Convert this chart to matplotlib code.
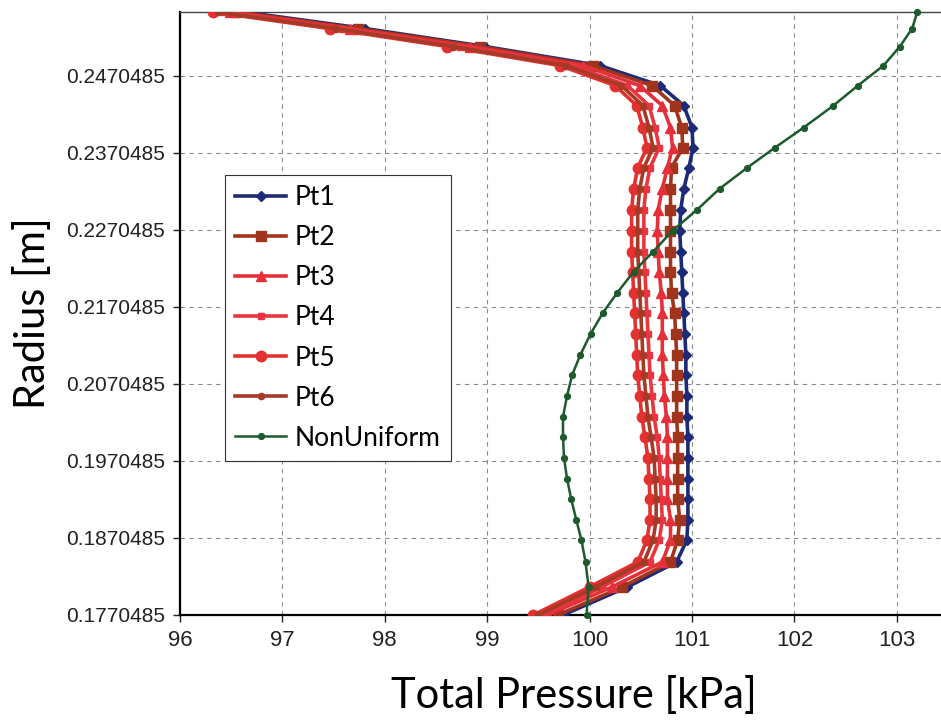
#!/usr/bin/env python3
# -*- coding: utf-8 -*-
"""
Radial total pressure profiles (Pt1..Pt6 probes vs. non-uniform inflow).

Output:
  out.png
"""

from __future__ import annotations

from pathlib import Path

import matplotlib

matplotlib.use("Agg")
import matplotlib.pyplot as plt

OUTPUT = Path("out.png")

# radius of each measurement station [m], hub -> tip
RADIUS = [0.1770485, 0.18069, 0.18393, 0.18679, 0.18939, 0.19211, 0.19471, 0.19744,
          0.20017, 0.20276, 0.20549, 0.20822, 0.21082, 0.21354, 0.21627, 0.21887,
          0.22160, 0.22419, 0.22692, 0.22965, 0.23237, 0.23510, 0.23770, 0.24030,
          0.24315, 0.24575, 0.24835, 0.25082, 0.25315, 0.25530]

# total pressure [kPa]
PT1 = [99.74, 100.37, 100.85, 100.95, 100.96, 100.96, 100.96, 100.96, 100.96, 100.95,
       100.95, 100.94, 100.94, 100.93, 100.92, 100.91, 100.90, 100.89, 100.88, 100.89,
       100.92, 100.97, 101.01, 101.00, 100.92, 100.69, 100.10, 98.98, 97.81, 96.62]
PT2 = [99.69, 100.32, 100.79, 100.86, 100.88, 100.86, 100.86, 100.86, 100.86, 100.85,
       100.85, 100.85, 100.85, 100.84, 100.83, 100.80, 100.79, 100.79, 100.79, 100.79,
       100.79, 100.80, 100.91, 100.90, 100.83, 100.61, 100.03, 98.93, 97.74, 96.56]
PT3 = [99.59, 100.22, 100.71, 100.79, 100.79, 100.76, 100.76, 100.76, 100.76, 100.75,
       100.73, 100.72, 100.71, 100.71, 100.71, 100.70, 100.68, 100.67, 100.66, 100.67,
       100.71, 100.76, 100.81, 100.79, 100.71, 100.49, 99.94, 98.83, 97.66, 96.49]
PT4 = [99.55, 100.12, 100.59, 100.68, 100.71, 100.70, 100.69, 100.68, 100.66, 100.63,
       100.61, 100.59, 100.58, 100.57, 100.56, 100.55, 100.54, 100.53, 100.53, 100.53,
       100.55, 100.59, 100.68, 100.64, 100.58, 100.37, 99.83, 98.73, 97.58, 96.42]
PT5 = [99.45, 100.00, 100.47, 100.56, 100.59, 100.59, 100.58, 100.57, 100.54, 100.51,
       100.49, 100.47, 100.46, 100.45, 100.44, 100.43, 100.42, 100.41, 100.41, 100.41,
       100.43, 100.47, 100.56, 100.52, 100.46, 100.25, 99.71, 98.61, 97.46, 96.32]
PT6 = [99.50, 100.06, 100.53, 100.62, 100.65, 100.65, 100.64, 100.63, 100.60, 100.57,
       100.55, 100.53, 100.52, 100.51, 100.50, 100.49, 100.48, 100.47, 100.47, 100.47,
       100.49, 100.53, 100.62, 100.58, 100.52, 100.31, 99.77, 98.67, 97.52, 96.37]
NON_UNIFORM = [99.97, 99.99, 99.96, 99.92, 99.87, 99.82, 99.78, 99.75, 99.74, 99.74,
               99.78, 99.83, 99.91, 100.01, 100.13, 100.27, 100.43, 100.62, 100.81, 101.05,
               101.27, 101.54, 101.81, 102.09, 102.38, 102.62, 102.87, 103.03, 103.15, 103.20]

X_TICKS = [96, 97, 98, 99, 100, 101, 102, 103]
Y_TICKS = [0.1770485, 0.1870485, 0.1970485, 0.2070485, 0.2170485,
           0.2270485, 0.2370485, 0.2470485]
Y_TICK_LABELS = ["0.1770485", "0.1870485", "0.1970485", "0.2070485", "0.2170485",
                 "0.2270485", "0.2370485", "0.2470485"]

LABEL_FONT = ["Lato", "DejaVu Sans"]
TICK_FONT = ["Liberation Sans", "DejaVu Sans"]

# (label, data, color, marker, markersize)
SERIES = [
    ("Pt1", PT1, "#1c2a78", "D", 5.5),
    ("Pt2", PT2, "#a1341c", "s", 7),
    ("Pt3", PT3, "#e5303a", "^", 7),
    ("Pt4", PT4, "#e8353f", "s", 4.5),
    ("Pt5", PT5, "#e3312f", "o", 7.5),
    ("Pt6", PT6, "#a53a26", "o", 4.5),
]


def main() -> int:
    fig = plt.figure(figsize=(9.41, 7.21), dpi=100)
    ax = fig.add_axes([180 / 941, 106 / 721, 761 / 941, 603 / 721])

    for label, values, color, marker, ms in SERIES:
        ax.plot(values, RADIUS, color=color, lw=2.6, marker=marker, ms=ms,
                mec=color, mfc=color, label=label, zorder=3)
    ax.plot(NON_UNIFORM, RADIUS, color="#1d5a2c", lw=1.8, marker="o", ms=4.2,
            label="NonUniform", zorder=4, clip_on=False)

    ax.set_xlim(96, 96 + 761 / 102.4)
    ax.set_ylim(0.1770485, 0.2553)
    ax.set_xticks(X_TICKS)
    ax.set_yticks(Y_TICKS)
    ax.set_yticklabels(Y_TICK_LABELS)

    for lbl in ax.get_xticklabels():
        lbl.set_family(TICK_FONT)
        lbl.set_fontsize(16)
    for lbl in ax.get_yticklabels():
        lbl.set_family(TICK_FONT)
        lbl.set_fontsize(15)
    ax.tick_params(direction="out", length=5, width=1, colors="#222222", pad=6)

    ax.grid(True, color="#8c8c8c", linestyle=(0, (4, 4)), lw=0.8, zorder=0)
    ax.set_axisbelow(True)
    ax.spines["right"].set_visible(False)
    for side in ("left", "bottom"):
        ax.spines[side].set_linewidth(1.6)
    ax.spines["top"].set_linewidth(1.0)
    ax.spines["top"].set_color("#444444")

    ax.set_xlabel("Total Pressure [kPa]", family=LABEL_FONT, fontsize=30, labelpad=18)
    ax.xaxis.label.set_x(0.517)
    ax.set_ylabel("Radius [m]", family=LABEL_FONT, fontsize=30, labelpad=10)

    leg = ax.legend(loc="upper left", bbox_to_anchor=(0.059, 0.730), borderaxespad=0,
                    prop={"family": LABEL_FONT, "size": 19}, fancybox=False,
                    edgecolor="#333333", framealpha=1, handlelength=1.9,
                    labelspacing=0.57, borderpad=0.4, handletextpad=0.35)
    leg.get_frame().set_linewidth(0.8)

    fig.savefig(OUTPUT, dpi=100)
    plt.close(fig)
    print(f"Saved: {OUTPUT.resolve()}")
    return 0


if __name__ == "__main__":
    raise SystemExit(main())
